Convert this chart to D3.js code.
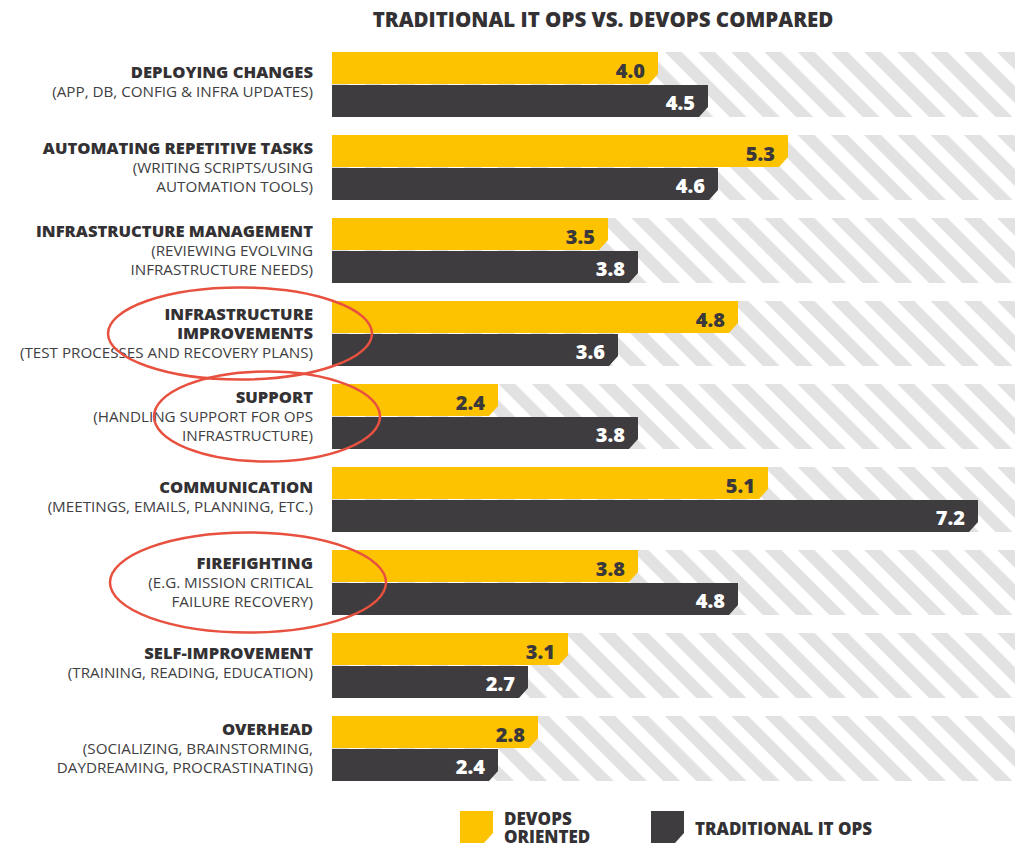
<!DOCTYPE html>
<html><head><meta charset="utf-8">
<script src="https://cdn.jsdelivr.net/npm/d3@7"></script>
<style>
html,body{margin:0;padding:0;background:#fff;}
svg{display:block;font-family:"Open Sans","Noto Sans",sans-serif;}
</style></head>
<body>
<svg id="chart" width="1024" height="851"></svg>
<script>
// ---- data ----
const title = "TRADITIONAL IT OPS VS. DEVOPS COMPARED";
const categories = ["DEPLOYING CHANGES","AUTOMATING REPETITIVE TASKS","INFRASTRUCTURE MANAGEMENT","INFRASTRUCTURE IMPROVEMENTS","SUPPORT","COMMUNICATION","FIREFIGHTING","SELF-IMPROVEMENT","OVERHEAD"];
const titleLines = [["DEPLOYING CHANGES"],["AUTOMATING REPETITIVE TASKS"],["INFRASTRUCTURE MANAGEMENT"],["INFRASTRUCTURE","IMPROVEMENTS"],["SUPPORT"],["COMMUNICATION"],["FIREFIGHTING"],["SELF-IMPROVEMENT"],["OVERHEAD"]];
const subLines = [["(APP, DB, CONFIG & INFRA UPDATES)"],["(WRITING SCRIPTS/USING","AUTOMATION TOOLS)"],["(REVIEWING EVOLVING","INFRASTRUCTURE NEEDS)"],["(TEST PROCESSES AND RECOVERY PLANS)"],["(HANDLING SUPPORT FOR OPS","INFRASTRUCTURE)"],["(MEETINGS, EMAILS, PLANNING, ETC.)"],["(E.G. MISSION CRITICAL","FAILURE RECOVERY)"],["(TRAINING, READING, EDUCATION)"],["(SOCIALIZING, BRAINSTORMING,","DAYDREAMING, PROCRASTINATING)"]];
const seriesNames = ["DEVOPS ORIENTED","TRADITIONAL IT OPS"];
const legendLines = [["DEVOPS","ORIENTED"],["TRADITIONAL IT OPS"]];
const devopsValues = [4.0,5.3,3.5,4.8,2.4,5.1,3.8,3.1,2.8];
const traditionalValues = [4.5,4.6,3.8,3.6,3.8,7.2,4.8,2.7,2.4];
const highlighted = ["INFRASTRUCTURE IMPROVEMENTS","SUPPORT","FIREFIGHTING"];

// ---- layout / style ----
const colors = {"DEVOPS ORIENTED":"#fec300","TRADITIONAL IT OPS":"#3e3c3f"};
const labelColors = {"DEVOPS ORIENTED":"#3a383b","TRADITIONAL IT OPS":"#ffffff"};
const textColor = "#333133";
const barLeft = 332, hatchRight = 1015, labelRight = 313;
const svg = d3.select("#chart");

const x = d3.scaleLinear().domain([0, 7.2]).range([258, 978]);
const y = d3.scaleBand().domain(categories).range([52, 781]).paddingInner(18/83).paddingOuter(0);
const ys = d3.scaleBand().domain(seriesNames).range([0, y.bandwidth()]).paddingInner(0.0303).paddingOuter(0);

const rows = categories.map((c,i)=>({cat:c, i, vals:[
  {s:seriesNames[0], v:devopsValues[i]},
  {s:seriesNames[1], v:traditionalValues[i]}]}));

// hatch pattern
const defs = svg.append("defs");
const pat = defs.append("pattern").attr("id","hatch").attr("patternUnits","userSpaceOnUse")
  .attr("width",23.5).attr("height",23.5).attr("patternTransform","rotate(-45)");
pat.append("rect").attr("width",23.5).attr("height",23.5).attr("fill","#fff");
pat.append("rect").attr("width",12).attr("height",23.5).attr("fill","#e2e2e2");

// title
svg.append("text").attr("x",603).attr("y",27).attr("text-anchor","middle")
  .attr("font-size",20.5).attr("font-weight",800).attr("fill",textColor).text(title);

// chamfer path
const cx = 9, cyc = 10;
function chamfer(x0,x1,y0,h){
  return `M${x0},${y0}H${x1}V${y0+h-cyc}L${x1-cx},${y0+h}H${x0}Z`;
}

const g = svg.append("g").selectAll("g.row").data(rows).join("g").attr("class","row")
  .attr("transform",d=>`translate(0,${y(d.cat)})`);

g.append("rect").attr("x",barLeft).attr("y",0).attr("width",hatchRight-barLeft)
  .attr("height",y.bandwidth()).attr("fill","url(#hatch)");

g.selectAll("path.bar").data(d=>d.vals).join("path").attr("class","bar")
  .attr("d",d=>chamfer(barLeft, x(d.v), ys(d.s), ys.bandwidth()))
  .attr("fill",d=>colors[d.s]);

g.selectAll("text.val").data(d=>d.vals).join("text").attr("class","val")
  .attr("x",d=>x(d.v)-13).attr("y",d=>ys(d.s)+25.5).attr("text-anchor","end")
  .attr("font-size",20).attr("font-weight",800).attr("fill",d=>labelColors[d.s])
  .text(d=>d3.format(".1f")(d.v));

// category labels
g.each(function(d){
  const lines = titleLines[d.i].map(t=>({t,b:true})).concat(subLines[d.i].map(t=>({t,b:false})));
  const n = lines.length;
  const c = y.bandwidth()/2;
  const first = c - (n-1)*19/2 + 5 - (n===2?2:0);
  const t = d3.select(this).append("text").attr("text-anchor","end").attr("fill",textColor);
  lines.forEach((l,k)=>{
    t.append("tspan").attr("x",labelRight).attr("y",first+k*19.3)
      .attr("font-size",l.b?16.6:15.2).attr("font-weight",l.b?800:400)
      .attr("fill",l.b?textColor:"#404042").text(l.t);
  });
});

// annotation ellipses
const ellipseGeom = {"INFRASTRUCTURE IMPROVEMENTS":{dx:-73,rx:132,ry:46},
  "SUPPORT":{dx:-46,rx:113,ry:45},"FIREFIGHTING":{dx:-65,rx:138,ry:50}};
svg.append("g").selectAll("ellipse").data(highlighted).join("ellipse")
  .attr("cx",d=>labelRight+ellipseGeom[d].dx)
  .attr("cy",d=>y(d)+y.bandwidth()/2)
  .attr("rx",d=>ellipseGeom[d].rx).attr("ry",d=>ellipseGeom[d].ry)
  .attr("fill","none").attr("stroke","#e8513f").attr("stroke-width",2.5);

// legend
const legX = {"DEVOPS ORIENTED":460,"TRADITIONAL IT OPS":651};
const lg = svg.append("g").selectAll("g").data(seriesNames).join("g")
  .attr("transform",d=>`translate(${legX[d]},811)`);
lg.append("path").attr("d",chamfer(0,33,0,32)).attr("fill",d=>colors[d]);
lg.each(function(d,i){
  const ls = legendLines[i];
  const t = d3.select(this).append("text").attr("font-size",17).attr("font-weight",800).attr("fill",textColor);
  ls.forEach((l,k)=>{
    t.append("tspan").attr("x",44).attr("y", ls.length===1 ? 24 : 14+k*18).text(l);
  });
});
</script>
</body></html>
